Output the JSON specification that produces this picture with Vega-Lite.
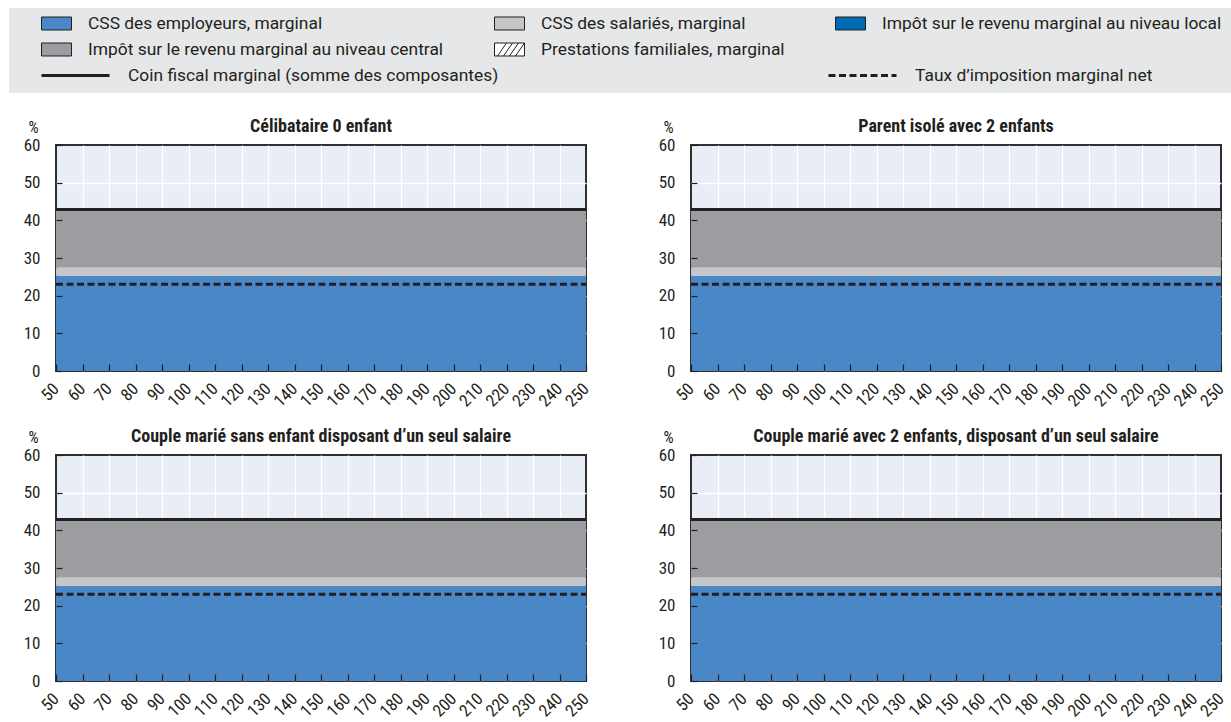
{
  "$schema": "https://vega.github.io/schema/vega-lite/v6.json",
  "padding": {"left": 8, "top": 8, "right": 0, "bottom": 0},
  "autosize": {"type": "pad"},
  "background": "#ffffff",
  "datasets": {
    "taux": [
      {"m":1,"x":50,"a":25.3,"b":2.2,"c":0,"d":15.35,"e":0,"t":42.85,"n":23},
      {"m":1,"x":60,"a":25.3,"b":2.2,"c":0,"d":15.35,"e":0,"t":42.85,"n":23},
      {"m":1,"x":70,"a":25.3,"b":2.2,"c":0,"d":15.35,"e":0,"t":42.85,"n":23},
      {"m":1,"x":80,"a":25.3,"b":2.2,"c":0,"d":15.35,"e":0,"t":42.85,"n":23},
      {"m":1,"x":90,"a":25.3,"b":2.2,"c":0,"d":15.35,"e":0,"t":42.85,"n":23},
      {"m":1,"x":100,"a":25.3,"b":2.2,"c":0,"d":15.35,"e":0,"t":42.85,"n":23},
      {"m":1,"x":110,"a":25.3,"b":2.2,"c":0,"d":15.35,"e":0,"t":42.85,"n":23},
      {"m":1,"x":120,"a":25.3,"b":2.2,"c":0,"d":15.35,"e":0,"t":42.85,"n":23},
      {"m":1,"x":130,"a":25.3,"b":2.2,"c":0,"d":15.35,"e":0,"t":42.85,"n":23},
      {"m":1,"x":140,"a":25.3,"b":2.2,"c":0,"d":15.35,"e":0,"t":42.85,"n":23},
      {"m":1,"x":150,"a":25.3,"b":2.2,"c":0,"d":15.35,"e":0,"t":42.85,"n":23},
      {"m":1,"x":160,"a":25.3,"b":2.2,"c":0,"d":15.35,"e":0,"t":42.85,"n":23},
      {"m":1,"x":170,"a":25.3,"b":2.2,"c":0,"d":15.35,"e":0,"t":42.85,"n":23},
      {"m":1,"x":180,"a":25.3,"b":2.2,"c":0,"d":15.35,"e":0,"t":42.85,"n":23},
      {"m":1,"x":190,"a":25.3,"b":2.2,"c":0,"d":15.35,"e":0,"t":42.85,"n":23},
      {"m":1,"x":200,"a":25.3,"b":2.2,"c":0,"d":15.35,"e":0,"t":42.85,"n":23},
      {"m":1,"x":210,"a":25.3,"b":2.2,"c":0,"d":15.35,"e":0,"t":42.85,"n":23},
      {"m":1,"x":220,"a":25.3,"b":2.2,"c":0,"d":15.35,"e":0,"t":42.85,"n":23},
      {"m":1,"x":230,"a":25.3,"b":2.2,"c":0,"d":15.35,"e":0,"t":42.85,"n":23},
      {"m":1,"x":240,"a":25.3,"b":2.2,"c":0,"d":15.35,"e":0,"t":42.85,"n":23},
      {"m":1,"x":250,"a":25.3,"b":2.2,"c":0,"d":15.35,"e":0,"t":42.85,"n":23},
      {"m":2,"x":50,"a":25.3,"b":2.2,"c":0,"d":15.35,"e":0,"t":42.85,"n":23},
      {"m":2,"x":60,"a":25.3,"b":2.2,"c":0,"d":15.35,"e":0,"t":42.85,"n":23},
      {"m":2,"x":70,"a":25.3,"b":2.2,"c":0,"d":15.35,"e":0,"t":42.85,"n":23},
      {"m":2,"x":80,"a":25.3,"b":2.2,"c":0,"d":15.35,"e":0,"t":42.85,"n":23},
      {"m":2,"x":90,"a":25.3,"b":2.2,"c":0,"d":15.35,"e":0,"t":42.85,"n":23},
      {"m":2,"x":100,"a":25.3,"b":2.2,"c":0,"d":15.35,"e":0,"t":42.85,"n":23},
      {"m":2,"x":110,"a":25.3,"b":2.2,"c":0,"d":15.35,"e":0,"t":42.85,"n":23},
      {"m":2,"x":120,"a":25.3,"b":2.2,"c":0,"d":15.35,"e":0,"t":42.85,"n":23},
      {"m":2,"x":130,"a":25.3,"b":2.2,"c":0,"d":15.35,"e":0,"t":42.85,"n":23},
      {"m":2,"x":140,"a":25.3,"b":2.2,"c":0,"d":15.35,"e":0,"t":42.85,"n":23},
      {"m":2,"x":150,"a":25.3,"b":2.2,"c":0,"d":15.35,"e":0,"t":42.85,"n":23},
      {"m":2,"x":160,"a":25.3,"b":2.2,"c":0,"d":15.35,"e":0,"t":42.85,"n":23},
      {"m":2,"x":170,"a":25.3,"b":2.2,"c":0,"d":15.35,"e":0,"t":42.85,"n":23},
      {"m":2,"x":180,"a":25.3,"b":2.2,"c":0,"d":15.35,"e":0,"t":42.85,"n":23},
      {"m":2,"x":190,"a":25.3,"b":2.2,"c":0,"d":15.35,"e":0,"t":42.85,"n":23},
      {"m":2,"x":200,"a":25.3,"b":2.2,"c":0,"d":15.35,"e":0,"t":42.85,"n":23},
      {"m":2,"x":210,"a":25.3,"b":2.2,"c":0,"d":15.35,"e":0,"t":42.85,"n":23},
      {"m":2,"x":220,"a":25.3,"b":2.2,"c":0,"d":15.35,"e":0,"t":42.85,"n":23},
      {"m":2,"x":230,"a":25.3,"b":2.2,"c":0,"d":15.35,"e":0,"t":42.85,"n":23},
      {"m":2,"x":240,"a":25.3,"b":2.2,"c":0,"d":15.35,"e":0,"t":42.85,"n":23},
      {"m":2,"x":250,"a":25.3,"b":2.2,"c":0,"d":15.35,"e":0,"t":42.85,"n":23},
      {"m":3,"x":50,"a":25.3,"b":2.2,"c":0,"d":15.35,"e":0,"t":42.85,"n":23},
      {"m":3,"x":60,"a":25.3,"b":2.2,"c":0,"d":15.35,"e":0,"t":42.85,"n":23},
      {"m":3,"x":70,"a":25.3,"b":2.2,"c":0,"d":15.35,"e":0,"t":42.85,"n":23},
      {"m":3,"x":80,"a":25.3,"b":2.2,"c":0,"d":15.35,"e":0,"t":42.85,"n":23},
      {"m":3,"x":90,"a":25.3,"b":2.2,"c":0,"d":15.35,"e":0,"t":42.85,"n":23},
      {"m":3,"x":100,"a":25.3,"b":2.2,"c":0,"d":15.35,"e":0,"t":42.85,"n":23},
      {"m":3,"x":110,"a":25.3,"b":2.2,"c":0,"d":15.35,"e":0,"t":42.85,"n":23},
      {"m":3,"x":120,"a":25.3,"b":2.2,"c":0,"d":15.35,"e":0,"t":42.85,"n":23},
      {"m":3,"x":130,"a":25.3,"b":2.2,"c":0,"d":15.35,"e":0,"t":42.85,"n":23},
      {"m":3,"x":140,"a":25.3,"b":2.2,"c":0,"d":15.35,"e":0,"t":42.85,"n":23},
      {"m":3,"x":150,"a":25.3,"b":2.2,"c":0,"d":15.35,"e":0,"t":42.85,"n":23},
      {"m":3,"x":160,"a":25.3,"b":2.2,"c":0,"d":15.35,"e":0,"t":42.85,"n":23},
      {"m":3,"x":170,"a":25.3,"b":2.2,"c":0,"d":15.35,"e":0,"t":42.85,"n":23},
      {"m":3,"x":180,"a":25.3,"b":2.2,"c":0,"d":15.35,"e":0,"t":42.85,"n":23},
      {"m":3,"x":190,"a":25.3,"b":2.2,"c":0,"d":15.35,"e":0,"t":42.85,"n":23},
      {"m":3,"x":200,"a":25.3,"b":2.2,"c":0,"d":15.35,"e":0,"t":42.85,"n":23},
      {"m":3,"x":210,"a":25.3,"b":2.2,"c":0,"d":15.35,"e":0,"t":42.85,"n":23},
      {"m":3,"x":220,"a":25.3,"b":2.2,"c":0,"d":15.35,"e":0,"t":42.85,"n":23},
      {"m":3,"x":230,"a":25.3,"b":2.2,"c":0,"d":15.35,"e":0,"t":42.85,"n":23},
      {"m":3,"x":240,"a":25.3,"b":2.2,"c":0,"d":15.35,"e":0,"t":42.85,"n":23},
      {"m":3,"x":250,"a":25.3,"b":2.2,"c":0,"d":15.35,"e":0,"t":42.85,"n":23},
      {"m":4,"x":50,"a":25.3,"b":2.2,"c":0,"d":15.35,"e":0,"t":42.85,"n":23},
      {"m":4,"x":60,"a":25.3,"b":2.2,"c":0,"d":15.35,"e":0,"t":42.85,"n":23},
      {"m":4,"x":70,"a":25.3,"b":2.2,"c":0,"d":15.35,"e":0,"t":42.85,"n":23},
      {"m":4,"x":80,"a":25.3,"b":2.2,"c":0,"d":15.35,"e":0,"t":42.85,"n":23},
      {"m":4,"x":90,"a":25.3,"b":2.2,"c":0,"d":15.35,"e":0,"t":42.85,"n":23},
      {"m":4,"x":100,"a":25.3,"b":2.2,"c":0,"d":15.35,"e":0,"t":42.85,"n":23},
      {"m":4,"x":110,"a":25.3,"b":2.2,"c":0,"d":15.35,"e":0,"t":42.85,"n":23},
      {"m":4,"x":120,"a":25.3,"b":2.2,"c":0,"d":15.35,"e":0,"t":42.85,"n":23},
      {"m":4,"x":130,"a":25.3,"b":2.2,"c":0,"d":15.35,"e":0,"t":42.85,"n":23},
      {"m":4,"x":140,"a":25.3,"b":2.2,"c":0,"d":15.35,"e":0,"t":42.85,"n":23},
      {"m":4,"x":150,"a":25.3,"b":2.2,"c":0,"d":15.35,"e":0,"t":42.85,"n":23},
      {"m":4,"x":160,"a":25.3,"b":2.2,"c":0,"d":15.35,"e":0,"t":42.85,"n":23},
      {"m":4,"x":170,"a":25.3,"b":2.2,"c":0,"d":15.35,"e":0,"t":42.85,"n":23},
      {"m":4,"x":180,"a":25.3,"b":2.2,"c":0,"d":15.35,"e":0,"t":42.85,"n":23},
      {"m":4,"x":190,"a":25.3,"b":2.2,"c":0,"d":15.35,"e":0,"t":42.85,"n":23},
      {"m":4,"x":200,"a":25.3,"b":2.2,"c":0,"d":15.35,"e":0,"t":42.85,"n":23},
      {"m":4,"x":210,"a":25.3,"b":2.2,"c":0,"d":15.35,"e":0,"t":42.85,"n":23},
      {"m":4,"x":220,"a":25.3,"b":2.2,"c":0,"d":15.35,"e":0,"t":42.85,"n":23},
      {"m":4,"x":230,"a":25.3,"b":2.2,"c":0,"d":15.35,"e":0,"t":42.85,"n":23},
      {"m":4,"x":240,"a":25.3,"b":2.2,"c":0,"d":15.35,"e":0,"t":42.85,"n":23},
      {"m":4,"x":250,"a":25.3,"b":2.2,"c":0,"d":15.35,"e":0,"t":42.85,"n":23}
    ]
  },
  "vconcat": [
    {
      "width": 1223,
      "height": 85,
      "view": {"fill": "#E6E7E8", "stroke": null},
      "data": {"values": [{}]},
      "mark": {"type": "rect", "color": "#E6E7E8"},
      "encoding": {}
    },
    {
      "bounds": "flush",
      "spacing": 46,
      "hconcat": [
        {
          "width": 1,
          "height": 1,
          "view": {"fill": null, "stroke": null},
          "data": {"values": []},
          "mark": {"type": "rect", "opacity": 0},
          "encoding": {}
        },
        {
          "bounds": "flush",
          "columns": 2,
          "spacing": {"row": 84, "column": 105},
          "concat": [
            {
              "title": "Célibataire 0 enfant",
              "width": 530, "height": 226,
              "data": {"name": "taux"},
              "transform": [{"filter": "datum.m === 1"}],
              "layer": [
                {
                  "transform": [{"fold": ["a","b","c","d","e"], "as": ["k","v"]}],
                  "mark": {"type": "area"},
                  "encoding": {
                    "x": {"field": "x", "type": "quantitative", "scale": {"domain": [50,250], "nice": false, "zero": false},
                      "axis": {"orient": "bottom", "values": [60,70,80,90,100,110,120,130,140,150,160,170,180,190,200,210,220,230,240], "title": null, "grid": true, "gridColor": "#ffffff", "gridWidth": 1.3, "ticks": false, "labels": false, "domain": false, "minExtent": 0, "maxExtent": 0, "zindex": 0}},
                    "y": {"field": "v", "type": "quantitative", "stack": "zero", "scale": {"domain": [0,60], "nice": false},
                      "axis": {"orient": "left", "values": [10,20,30,40,50], "title": null, "grid": true, "gridColor": "#ffffff", "gridWidth": 1.3, "ticks": false, "labels": false, "domain": false, "minExtent": 0, "maxExtent": 0, "zindex": 0}},
                    "fill": {"field": "k", "type": "nominal",
                      "scale": {"domain": ["a","b","c","d","e"], "range": ["#4A87C7","#C5C6C8","#0069B4","#9C9DA1","#FFFFFF"]},
                      "legend": {"title": null, "orient": "none", "direction": "horizontal", "legendX": 32, "legendY": 0, "columns": 3, "columnPadding": 48, "rowPadding": 2,
                        "symbolType": "M-1,-0.433H1V0.433H-1Z", "symbolSize": 900, "labelOffset": 16,
                        "labelExpr": "datum.value === 'a' ? 'CSS des employeurs, marginal' : datum.value === 'b' ? 'CSS des salariés, marginal' : datum.value === 'c' ? 'Impôt sur le revenu marginal au niveau local' : datum.value === 'd' ? 'Impôt sur le revenu marginal au niveau central' : 'Prestations familiales, marginal'",
                        "encode": {"symbols": {"update": {"shape": {"signal": "datum.value === 'e' ? 'M-1,-0.433H1V0.433H-1Z M-0.8,0.433L-0.2,-0.433 M-0.4,0.433L0.2,-0.433 M0,0.433L0.6,-0.433 M0.4,0.433L1,-0.433' : 'M-1,-0.433H1V0.433H-1Z'"}, "stroke": {"value": "#231f20"}, "strokeWidth": {"value": 1}, "opacity": {"value": 1}}}}}},
                    "order": {"field": "k", "sort": "ascending"}
                  }
                },
                {
                  "transform": [{"fold": ["t","n"], "as": ["k2","v2"]}],
                  "mark": {"type": "line", "color": "#231f20", "strokeWidth": 3},
                  "encoding": {
                    "x": {"field": "x", "type": "quantitative", "scale": {"domain": [50,250], "nice": false, "zero": false},
                      "axis": {"orient": "bottom", "values": [50,60,70,80,90,100,110,120,130,140,150,160,170,180,190,200,210,220,230,240,250], "title": null, "domain": false, "grid": false, "ticks": true, "tickSize": -7, "tickWidth": 1.2, "labelAngle": -45, "labelAlign": "right", "labelBaseline": "middle", "labelFontSize": 17, "labelPadding": 22, "labelFlush": false, "labelOverlap": false, "labelBound": false, "zindex": 1}},
                    "y": {"field": "v2", "type": "quantitative", "scale": {"domain": [0,60], "nice": false},
                      "axis": {"orient": "left", "values": [0,10,20,30,40,50,60], "title": "%", "titleAngle": 0, "titleX": -23, "titleY": -13, "titleAlign": "center", "titleBaseline": "alphabetic", "titleFontSize": 16, "titleFontWeight": "normal", "domain": false, "grid": false, "tickSize": -6, "tickWidth": 1.2, "labelFontSize": 17, "labelPadding": 22, "minExtent": 47, "maxExtent": 47, "zindex": 1}},
                    "strokeDash": {"field": "k2", "type": "nominal",
                      "scale": {"domain": ["t","n"], "range": [[1,0],[7,3.5]]},
                      "legend": {"title": null, "orient": "none", "direction": "horizontal", "legendX": 31, "legendY": 32, "columns": 2, "columnPadding": 323,
                        "symbolType": "stroke", "symbolSize": 4624, "symbolStrokeWidth": 3, "symbolStrokeColor": "#231f20", "labelOffset": 17,
                        "labelExpr": "datum.value === 't' ? 'Coin fiscal marginal (somme des composantes)' : 'Taux d’imposition marginal net'"}}
                  }
                }
              ],
              "resolve": {"axis": {"x": "independent", "y": "independent"}}
            },
            {
              "title": "Parent isolé avec 2 enfants",
              "width": 530, "height": 226,
              "data": {"name": "taux"},
              "transform": [{"filter": "datum.m === 2"}],
              "layer": [
                {
                  "transform": [{"fold": ["a","b","c","d","e"], "as": ["k","v"]}],
                  "mark": {"type": "area"},
                  "encoding": {
                    "x": {"field": "x", "type": "quantitative", "scale": {"domain": [50,250], "nice": false, "zero": false},
                      "axis": {"orient": "bottom", "values": [60,70,80,90,100,110,120,130,140,150,160,170,180,190,200,210,220,230,240], "title": null, "grid": true, "gridColor": "#ffffff", "gridWidth": 1.3, "ticks": false, "labels": false, "domain": false, "minExtent": 0, "maxExtent": 0, "zindex": 0}},
                    "y": {"field": "v", "type": "quantitative", "stack": "zero", "scale": {"domain": [0,60], "nice": false},
                      "axis": {"orient": "left", "values": [10,20,30,40,50], "title": null, "grid": true, "gridColor": "#ffffff", "gridWidth": 1.3, "ticks": false, "labels": false, "domain": false, "minExtent": 0, "maxExtent": 0, "zindex": 0}},
                    "fill": {"field": "k", "type": "nominal",
                      "scale": {"domain": ["a","b","c","d","e"], "range": ["#4A87C7","#C5C6C8","#0069B4","#9C9DA1","#FFFFFF"]},
                      "legend": {"title": null, "orient": "none", "direction": "horizontal", "legendX": 32, "legendY": 0, "columns": 3, "columnPadding": 48, "rowPadding": 2,
                        "symbolType": "M-1,-0.433H1V0.433H-1Z", "symbolSize": 900, "labelOffset": 16,
                        "labelExpr": "datum.value === 'a' ? 'CSS des employeurs, marginal' : datum.value === 'b' ? 'CSS des salariés, marginal' : datum.value === 'c' ? 'Impôt sur le revenu marginal au niveau local' : datum.value === 'd' ? 'Impôt sur le revenu marginal au niveau central' : 'Prestations familiales, marginal'",
                        "encode": {"symbols": {"update": {"shape": {"signal": "datum.value === 'e' ? 'M-1,-0.433H1V0.433H-1Z M-0.8,0.433L-0.2,-0.433 M-0.4,0.433L0.2,-0.433 M0,0.433L0.6,-0.433 M0.4,0.433L1,-0.433' : 'M-1,-0.433H1V0.433H-1Z'"}, "stroke": {"value": "#231f20"}, "strokeWidth": {"value": 1}, "opacity": {"value": 1}}}}}},
                    "order": {"field": "k", "sort": "ascending"}
                  }
                },
                {
                  "transform": [{"fold": ["t","n"], "as": ["k2","v2"]}],
                  "mark": {"type": "line", "color": "#231f20", "strokeWidth": 3},
                  "encoding": {
                    "x": {"field": "x", "type": "quantitative", "scale": {"domain": [50,250], "nice": false, "zero": false},
                      "axis": {"orient": "bottom", "values": [50,60,70,80,90,100,110,120,130,140,150,160,170,180,190,200,210,220,230,240,250], "title": null, "domain": false, "grid": false, "ticks": true, "tickSize": -7, "tickWidth": 1.2, "labelAngle": -45, "labelAlign": "right", "labelBaseline": "middle", "labelFontSize": 17, "labelPadding": 22, "labelFlush": false, "labelOverlap": false, "labelBound": false, "zindex": 1}},
                    "y": {"field": "v2", "type": "quantitative", "scale": {"domain": [0,60], "nice": false},
                      "axis": {"orient": "left", "values": [0,10,20,30,40,50,60], "title": "%", "titleAngle": 0, "titleX": -23, "titleY": -13, "titleAlign": "center", "titleBaseline": "alphabetic", "titleFontSize": 16, "titleFontWeight": "normal", "domain": false, "grid": false, "tickSize": -6, "tickWidth": 1.2, "labelFontSize": 17, "labelPadding": 22, "minExtent": 47, "maxExtent": 47, "zindex": 1}},
                    "strokeDash": {"field": "k2", "type": "nominal",
                      "scale": {"domain": ["t","n"], "range": [[1,0],[7,3.5]]},
                      "legend": {"title": null, "orient": "none", "direction": "horizontal", "legendX": 31, "legendY": 32, "columns": 2, "columnPadding": 323,
                        "symbolType": "stroke", "symbolSize": 4624, "symbolStrokeWidth": 3, "symbolStrokeColor": "#231f20", "labelOffset": 17,
                        "labelExpr": "datum.value === 't' ? 'Coin fiscal marginal (somme des composantes)' : 'Taux d’imposition marginal net'"}}
                  }
                }
              ],
              "resolve": {"axis": {"x": "independent", "y": "independent"}}
            },
            {
              "title": "Couple marié sans enfant disposant d’un seul salaire",
              "width": 530, "height": 226,
              "data": {"name": "taux"},
              "transform": [{"filter": "datum.m === 3"}],
              "layer": [
                {
                  "transform": [{"fold": ["a","b","c","d","e"], "as": ["k","v"]}],
                  "mark": {"type": "area"},
                  "encoding": {
                    "x": {"field": "x", "type": "quantitative", "scale": {"domain": [50,250], "nice": false, "zero": false},
                      "axis": {"orient": "bottom", "values": [60,70,80,90,100,110,120,130,140,150,160,170,180,190,200,210,220,230,240], "title": null, "grid": true, "gridColor": "#ffffff", "gridWidth": 1.3, "ticks": false, "labels": false, "domain": false, "minExtent": 0, "maxExtent": 0, "zindex": 0}},
                    "y": {"field": "v", "type": "quantitative", "stack": "zero", "scale": {"domain": [0,60], "nice": false},
                      "axis": {"orient": "left", "values": [10,20,30,40,50], "title": null, "grid": true, "gridColor": "#ffffff", "gridWidth": 1.3, "ticks": false, "labels": false, "domain": false, "minExtent": 0, "maxExtent": 0, "zindex": 0}},
                    "fill": {"field": "k", "type": "nominal",
                      "scale": {"domain": ["a","b","c","d","e"], "range": ["#4A87C7","#C5C6C8","#0069B4","#9C9DA1","#FFFFFF"]},
                      "legend": {"title": null, "orient": "none", "direction": "horizontal", "legendX": 32, "legendY": 0, "columns": 3, "columnPadding": 48, "rowPadding": 2,
                        "symbolType": "M-1,-0.433H1V0.433H-1Z", "symbolSize": 900, "labelOffset": 16,
                        "labelExpr": "datum.value === 'a' ? 'CSS des employeurs, marginal' : datum.value === 'b' ? 'CSS des salariés, marginal' : datum.value === 'c' ? 'Impôt sur le revenu marginal au niveau local' : datum.value === 'd' ? 'Impôt sur le revenu marginal au niveau central' : 'Prestations familiales, marginal'",
                        "encode": {"symbols": {"update": {"shape": {"signal": "datum.value === 'e' ? 'M-1,-0.433H1V0.433H-1Z M-0.8,0.433L-0.2,-0.433 M-0.4,0.433L0.2,-0.433 M0,0.433L0.6,-0.433 M0.4,0.433L1,-0.433' : 'M-1,-0.433H1V0.433H-1Z'"}, "stroke": {"value": "#231f20"}, "strokeWidth": {"value": 1}, "opacity": {"value": 1}}}}}},
                    "order": {"field": "k", "sort": "ascending"}
                  }
                },
                {
                  "transform": [{"fold": ["t","n"], "as": ["k2","v2"]}],
                  "mark": {"type": "line", "color": "#231f20", "strokeWidth": 3},
                  "encoding": {
                    "x": {"field": "x", "type": "quantitative", "scale": {"domain": [50,250], "nice": false, "zero": false},
                      "axis": {"orient": "bottom", "values": [50,60,70,80,90,100,110,120,130,140,150,160,170,180,190,200,210,220,230,240,250], "title": null, "domain": false, "grid": false, "ticks": true, "tickSize": -7, "tickWidth": 1.2, "labelAngle": -45, "labelAlign": "right", "labelBaseline": "middle", "labelFontSize": 17, "labelPadding": 22, "labelFlush": false, "labelOverlap": false, "labelBound": false, "zindex": 1}},
                    "y": {"field": "v2", "type": "quantitative", "scale": {"domain": [0,60], "nice": false},
                      "axis": {"orient": "left", "values": [0,10,20,30,40,50,60], "title": "%", "titleAngle": 0, "titleX": -23, "titleY": -13, "titleAlign": "center", "titleBaseline": "alphabetic", "titleFontSize": 16, "titleFontWeight": "normal", "domain": false, "grid": false, "tickSize": -6, "tickWidth": 1.2, "labelFontSize": 17, "labelPadding": 22, "minExtent": 47, "maxExtent": 47, "zindex": 1}},
                    "strokeDash": {"field": "k2", "type": "nominal",
                      "scale": {"domain": ["t","n"], "range": [[1,0],[7,3.5]]},
                      "legend": {"title": null, "orient": "none", "direction": "horizontal", "legendX": 31, "legendY": 32, "columns": 2, "columnPadding": 323,
                        "symbolType": "stroke", "symbolSize": 4624, "symbolStrokeWidth": 3, "symbolStrokeColor": "#231f20", "labelOffset": 17,
                        "labelExpr": "datum.value === 't' ? 'Coin fiscal marginal (somme des composantes)' : 'Taux d’imposition marginal net'"}}
                  }
                }
              ],
              "resolve": {"axis": {"x": "independent", "y": "independent"}}
            },
            {
              "title": "Couple marié avec 2 enfants, disposant d’un seul salaire",
              "width": 530, "height": 226,
              "data": {"name": "taux"},
              "transform": [{"filter": "datum.m === 4"}],
              "layer": [
                {
                  "transform": [{"fold": ["a","b","c","d","e"], "as": ["k","v"]}],
                  "mark": {"type": "area"},
                  "encoding": {
                    "x": {"field": "x", "type": "quantitative", "scale": {"domain": [50,250], "nice": false, "zero": false},
                      "axis": {"orient": "bottom", "values": [60,70,80,90,100,110,120,130,140,150,160,170,180,190,200,210,220,230,240], "title": null, "grid": true, "gridColor": "#ffffff", "gridWidth": 1.3, "ticks": false, "labels": false, "domain": false, "minExtent": 0, "maxExtent": 0, "zindex": 0}},
                    "y": {"field": "v", "type": "quantitative", "stack": "zero", "scale": {"domain": [0,60], "nice": false},
                      "axis": {"orient": "left", "values": [10,20,30,40,50], "title": null, "grid": true, "gridColor": "#ffffff", "gridWidth": 1.3, "ticks": false, "labels": false, "domain": false, "minExtent": 0, "maxExtent": 0, "zindex": 0}},
                    "fill": {"field": "k", "type": "nominal",
                      "scale": {"domain": ["a","b","c","d","e"], "range": ["#4A87C7","#C5C6C8","#0069B4","#9C9DA1","#FFFFFF"]},
                      "legend": {"title": null, "orient": "none", "direction": "horizontal", "legendX": 32, "legendY": 0, "columns": 3, "columnPadding": 48, "rowPadding": 2,
                        "symbolType": "M-1,-0.433H1V0.433H-1Z", "symbolSize": 900, "labelOffset": 16,
                        "labelExpr": "datum.value === 'a' ? 'CSS des employeurs, marginal' : datum.value === 'b' ? 'CSS des salariés, marginal' : datum.value === 'c' ? 'Impôt sur le revenu marginal au niveau local' : datum.value === 'd' ? 'Impôt sur le revenu marginal au niveau central' : 'Prestations familiales, marginal'",
                        "encode": {"symbols": {"update": {"shape": {"signal": "datum.value === 'e' ? 'M-1,-0.433H1V0.433H-1Z M-0.8,0.433L-0.2,-0.433 M-0.4,0.433L0.2,-0.433 M0,0.433L0.6,-0.433 M0.4,0.433L1,-0.433' : 'M-1,-0.433H1V0.433H-1Z'"}, "stroke": {"value": "#231f20"}, "strokeWidth": {"value": 1}, "opacity": {"value": 1}}}}}},
                    "order": {"field": "k", "sort": "ascending"}
                  }
                },
                {
                  "transform": [{"fold": ["t","n"], "as": ["k2","v2"]}],
                  "mark": {"type": "line", "color": "#231f20", "strokeWidth": 3},
                  "encoding": {
                    "x": {"field": "x", "type": "quantitative", "scale": {"domain": [50,250], "nice": false, "zero": false},
                      "axis": {"orient": "bottom", "values": [50,60,70,80,90,100,110,120,130,140,150,160,170,180,190,200,210,220,230,240,250], "title": null, "domain": false, "grid": false, "ticks": true, "tickSize": -7, "tickWidth": 1.2, "labelAngle": -45, "labelAlign": "right", "labelBaseline": "middle", "labelFontSize": 17, "labelPadding": 22, "labelFlush": false, "labelOverlap": false, "labelBound": false, "zindex": 1}},
                    "y": {"field": "v2", "type": "quantitative", "scale": {"domain": [0,60], "nice": false},
                      "axis": {"orient": "left", "values": [0,10,20,30,40,50,60], "title": "%", "titleAngle": 0, "titleX": -23, "titleY": -13, "titleAlign": "center", "titleBaseline": "alphabetic", "titleFontSize": 16, "titleFontWeight": "normal", "domain": false, "grid": false, "tickSize": -6, "tickWidth": 1.2, "labelFontSize": 17, "labelPadding": 22, "minExtent": 47, "maxExtent": 47, "zindex": 1}},
                    "strokeDash": {"field": "k2", "type": "nominal",
                      "scale": {"domain": ["t","n"], "range": [[1,0],[7,3.5]]},
                      "legend": {"title": null, "orient": "none", "direction": "horizontal", "legendX": 31, "legendY": 32, "columns": 2, "columnPadding": 323,
                        "symbolType": "stroke", "symbolSize": 4624, "symbolStrokeWidth": 3, "symbolStrokeColor": "#231f20", "labelOffset": 17,
                        "labelExpr": "datum.value === 't' ? 'Coin fiscal marginal (somme des composantes)' : 'Taux d’imposition marginal net'"}}
                  }
                }
              ],
              "resolve": {"axis": {"x": "independent", "y": "independent"}}
            }
          ]
        }
      ]
    }
  ],
  "spacing": 24,
  "config": {
    "font": "Roboto Condensed, Roboto",
    "view": {"fill": "#E8EDF6", "stroke": "#2f2f2f", "strokeWidth": 2},
    "axis": {"labelFont": "Roboto Condensed, Roboto", "titleFont": "Roboto Condensed, Roboto", "labelColor": "#231f20", "titleColor": "#231f20", "tickColor": "#231f20"},
    "legend": {"labelFont": "Roboto", "labelFontSize": 17.4, "labelColor": "#231f20", "labelLimit": 800, "padding": 0},
    "title": {"font": "Roboto Condensed, Roboto", "fontSize": 18, "fontWeight": "bold", "color": "#231f20", "anchor": "middle", "frame": "group", "baseline": "alphabetic", "offset": -17}
  }
}
